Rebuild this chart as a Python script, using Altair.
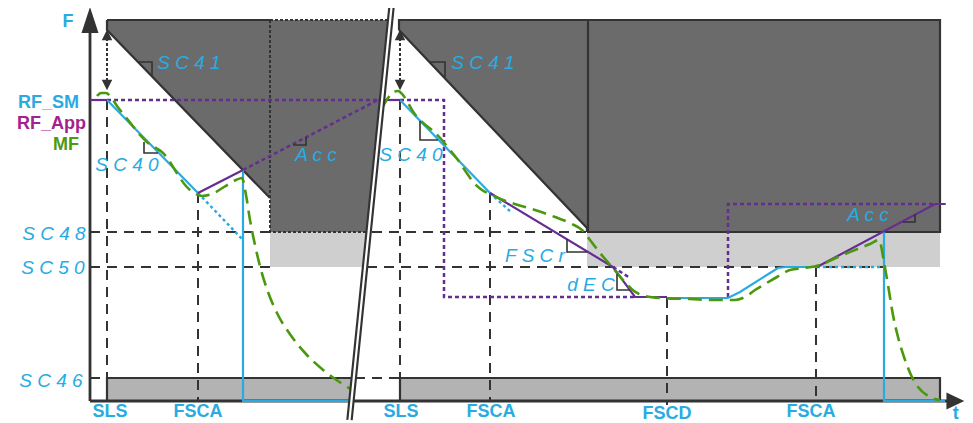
import altair as alt
import pandas as pd

# ---------------- data (diagram coordinates: x to the right, y downward) ----------------
# shaded zones (horizontal areas: y, left x, right x)
DARK_LEFT = [(20, 107, 390.2), (30, 107, 389.2), (198, 270, 371.4), (232, 270, 367.9)]
DARK_RIGHT = [(20, 399, 940), (30, 399, 940), (228, 587, 940), (232, 587, 940)]
HATCH_LEFT = [(232, 270, 367.9), (267, 270, 364.3)]
HATCH_RIGHT = [(232, 587, 940), (267, 587, 940)]
BAR_LEFT = [(378, 107, 353.0), (401, 107, 350.7)]
BAR_RIGHT = [(378, 400, 940), (401, 400, 940)]

# zone borders
BORDER_SOLID = [
    [(107, 20), (270, 20)], [(107, 20), (107, 30), (270, 198)],
    [(399, 30), (399, 20), (940, 20), (940, 232), (587, 232)],
    [(399, 30), (587, 228), (587, 232)], [(588, 20), (588, 232)],
    [(107, 401), (107, 378), (353, 378)],
    [(400, 401), (400, 378), (940, 378), (940, 401)],
]
BORDER_DOTTED = [[(270, 20), (388, 20)], [(270, 20), (270, 232), (368, 232)]]

# axes
Y_AXIS = [(90, 401), (90, 30)]
X_AXIS = [(90, 401), (950, 401)]
Y_ARROW = [(7, 90, 90), (33, 81.5, 98.5)]        # y, left x, right x
X_ARROW = [(947, 392.5, 409.5), (972, 401, 401)]  # x, top y, bottom y
BREAK = [(391.5, 7), (349.5, 420)]

# reference levels / instants (dashed guides)
GUIDES_H = [
    [(90, 232), (270, 232)], [(372, 232), (587, 232)],
    [(90, 267), (270, 267)], [(367, 267), (884, 267)],
    [(90, 378), (107, 378)], [(355, 378), (400, 378)],
]
GUIDES_V = [
    [(107, 100), (107, 401)], [(198, 193), (198, 401)], [(400, 100), (400, 401)],
    [(490, 193), (490, 401)], [(667, 298), (667, 405)], [(816, 267), (816, 401)],
]
GAP_ARROWS = [[(107, 38), (107, 83)], [(400, 38), (400, 83)]]
GAP_UP = [(107, 35), (400, 35)]
GAP_DOWN = [(107, 85), (400, 85)]

# RF_SM (blue)
RF_SM_SOLID = [
    [(107, 100), (198, 193)],
    [(243, 170), (243, 401), (351, 401)],
    [(400, 100), (490, 193)],
    [(667, 298), (728, 298), (740, 292), (770, 273), (778, 268), (786, 267), (817, 267)],
    [(884, 232), (884, 401), (945, 401)],
]
RF_SM_DOTTED = [[(198, 193), (243, 240)], [(490, 193), (512, 213)], [(817, 267), (884, 267)]]

# RF_App (purple)
RF_APP_SOLID = [
    [(90, 100), (107, 100)],
    [(198, 193), (243, 170)],
    [(378, 100), (400, 100)],
    [(490, 193), (613, 267), (635, 297), (667, 297)],
    [(817, 267), (935, 204), (946, 204)],
]
RF_APP_DOTTED = [
    [(107, 100), (378, 100)],
    [(243, 170), (378, 100)],
    [(400, 100), (444, 100), (444, 297), (635, 297)],
    [(613, 267), (630, 278)],
    [(728, 297), (728, 204), (935, 204)],
]

# MF (green, measured)
MF_LEFT = [(97, 96), (101, 93), (106, 93), (111, 97), (117, 106), (124, 115), (132, 125),
           (140, 135), (148, 143), (156, 148), (163, 153), (170, 162), (178, 175), (186, 186),
           (194, 193), (202, 196), (212, 194), (224, 187), (236, 180), (242, 178), (246, 195),
           (250, 220), (255, 245), (261, 270), (268, 292), (278, 315), (292, 337), (306, 354),
           (322, 369), (338, 381), (352, 390)]
MF_RIGHT = [(382, 108), (388, 98), (393, 92), (398, 91), (403, 95), (408, 103), (414, 113),
            (422, 122), (432, 130), (442, 140), (450, 150), (458, 160), (466, 172), (474, 183),
            (482, 190), (492, 195), (503, 200), (518, 205), (535, 210), (555, 217), (572, 224),
            (582, 230), (590, 240), (600, 253), (612, 267), (624, 281), (634, 291), (645, 296),
            (660, 298), (690, 299), (715, 300), (735, 300), (745, 297), (755, 290), (765, 284),
            (777, 277), (790, 270), (805, 268), (820, 265), (838, 257), (855, 250), (870, 244),
            (879, 240), (884, 262), (888, 285), (893, 315), (898, 337), (904, 357), (911, 375),
            (918, 387), (928, 396), (940, 400)]

# slope markers
MARKERS = [
    [(138, 62), (152, 62), (152, 76)],
    [(144, 142), (144, 153), (158, 153)],
    [(293, 145), (306, 145), (306, 137)],
    [(430, 62), (445, 62), (445, 77)],
    [(420, 121), (420, 140), (438, 140)],
    [(567, 239), (567, 252), (587, 252)],
    [(617, 274), (617, 290), (630, 290)],
    [(903, 222), (915, 222), (915, 214)],
]

# texts
PARAM_TEXT = ["S C 4 1", "S C 4 1", "S C 4 0", "S C 4 0", "A c c", "A c c", "F S C r", "d E C",
              "S C 4 8", "S C 5 0", "S C 4 6"]
PARAM_X = [189, 483, 127, 411, 316, 868, 535, 591, 54, 53, 51]
PARAM_Y = [63, 63, 165, 155, 155, 215, 256, 285, 234, 268, 381]

TIME_TEXT = ["SLS", "FSCA", "SLS", "FSCA", "FSCD", "FSCA", "t", "F"]
TIME_X = [110, 198, 401, 491, 667, 811, 960, 68]
TIME_Y = [412, 412, 412, 412, 414, 412, 414, 22]

LEGEND_TEXT = ["RF_SM", "RF_App", "MF"]
LEGEND_X = [79, 86, 79]
LEGEND_Y = [103, 124, 145]
LEGEND_COLOR = ["#29abe2", "#a3228f", "#4d9a0e"]

# ---------------- styling ----------------
BLUE = "#29abe2"
PURPLE = "#662d91"
GREEN = "#4a990c"
DARK = "#333333"
ZONE = "#6b6b6b"
HATCH = "#cfcfcf"
BAR = "#b3b3b3"

# 1:1 up to x=945, the arrow tip squeezed into the last few pixels
XS = alt.Scale(domain=[8, 945, 973], range=[0, 937, 957], nice=False, zero=False)
YS = alt.Scale(domain=[8, 423], nice=False, zero=False, reverse=True)


def X(f="x"):
    return alt.X(f"{f}:Q", scale=XS, axis=None)


def Y(f="y"):
    return alt.Y(f"{f}:Q", scale=YS, axis=None)


def lines(segments, color, width, dash=None, interp="linear", cap="butt"):
    rows = []
    for s, seg in enumerate(segments):
        for i, (x, y) in enumerate(seg):
            rows.append({"x": x, "y": y, "s": s, "i": i})
    kw = dict(color=color, strokeWidth=width, interpolate=interp, strokeCap=cap, strokeJoin="miter")
    if dash:
        kw["strokeDash"] = dash
    return alt.Chart(pd.DataFrame(rows)).mark_line(**kw).encode(
        x=X(), y=Y(), detail="s:N", order="i:Q")


def zones(polys, color):
    rows = []
    for s, poly in enumerate(polys):
        for (y, xa, xb) in poly:
            rows.append({"y": y, "xa": xa, "xb": xb, "s": s})
    return alt.Chart(pd.DataFrame(rows)).mark_area(orient="horizontal", color=color, opacity=1).encode(
        y=Y(), x=X("xa"), x2="xb:Q", detail="s:N")


def vzone(poly, color):
    df = pd.DataFrame({"x": [p[0] for p in poly], "ya": [p[1] for p in poly], "yb": [p[2] for p in poly]})
    return alt.Chart(df).mark_area(orient="vertical", color=color, opacity=1).encode(
        x=X(), y=Y("ya"), y2="yb:Q")


def symbols(points, shape, size, color=DARK):
    df = pd.DataFrame({"x": [p[0] for p in points], "y": [p[1] for p in points]})
    return alt.Chart(df).mark_point(shape=shape, size=size, filled=True, color=color,
                                    opacity=1, strokeWidth=0).encode(x=X(), y=Y())


def texts(txt, xs, ys, **kw):
    df = pd.DataFrame({"x": xs, "y": ys, "t": txt})
    return alt.Chart(df).mark_text(**kw).encode(x=X(), y=Y(), text="t:N")


layers = [
    zones([HATCH_LEFT, HATCH_RIGHT], HATCH),
    zones([DARK_LEFT, DARK_RIGHT], ZONE),
    zones([BAR_LEFT, BAR_RIGHT], BAR),
    lines(GUIDES_H, DARK, 2, dash=[10, 7]),
    lines(GUIDES_V, DARK, 2, dash=[10, 7]),
    lines(BORDER_SOLID, DARK, 2.2),
    lines(BORDER_DOTTED, DARK, 2, dash=[3, 2]),
    lines([Y_AXIS, X_AXIS], DARK, 2.8),
    zones([Y_ARROW], DARK),
    vzone(X_ARROW, DARK),
    lines(GAP_ARROWS, DARK, 2, dash=[3, 2]),
    symbols(GAP_UP, "M -1 1 L 0 -1 L 1 1 Z", 110),
    symbols(GAP_DOWN, "M -1 -1 L 0 1 L 1 -1 Z", 110),
    lines(RF_APP_DOTTED, PURPLE, 2.5, dash=[4, 3]),
    lines(RF_SM_DOTTED, BLUE, 2.5, dash=[3, 3]),
    lines(RF_SM_SOLID, BLUE, 2.2),
    lines(RF_APP_SOLID, PURPLE, 2.2),
    lines([MF_LEFT, MF_RIGHT], GREEN, 2.6, dash=[14, 7], interp="monotone"),
    lines(MARKERS, DARK, 1.6),
    lines([BREAK], DARK, 6.5),
    lines([BREAK], "white", 2.2),
    texts(PARAM_TEXT, PARAM_X, PARAM_Y, font="Liberation Sans", fontSize=19, fontStyle="italic",
          color=BLUE, align="center", baseline="middle"),
    texts(TIME_TEXT, TIME_X, TIME_Y, font="Liberation Sans", fontSize=18, fontWeight="bold",
          color=BLUE, align="center", baseline="middle"),
]
for t, x, y, c in zip(LEGEND_TEXT, LEGEND_X, LEGEND_Y, LEGEND_COLOR):
    layers.append(texts([t], [x], [y], font="Liberation Sans", fontSize=18, fontWeight="bold",
                        color=c, align="right", baseline="middle"))

chart = alt.layer(*layers).properties(
    width=957, height=415, padding=0,
    autosize=alt.AutoSizeParams(type="none"),
    background="white",
).configure_view(stroke=None)

chart.save("out.html", embed_options={"renderer": "svg", "actions": False})
